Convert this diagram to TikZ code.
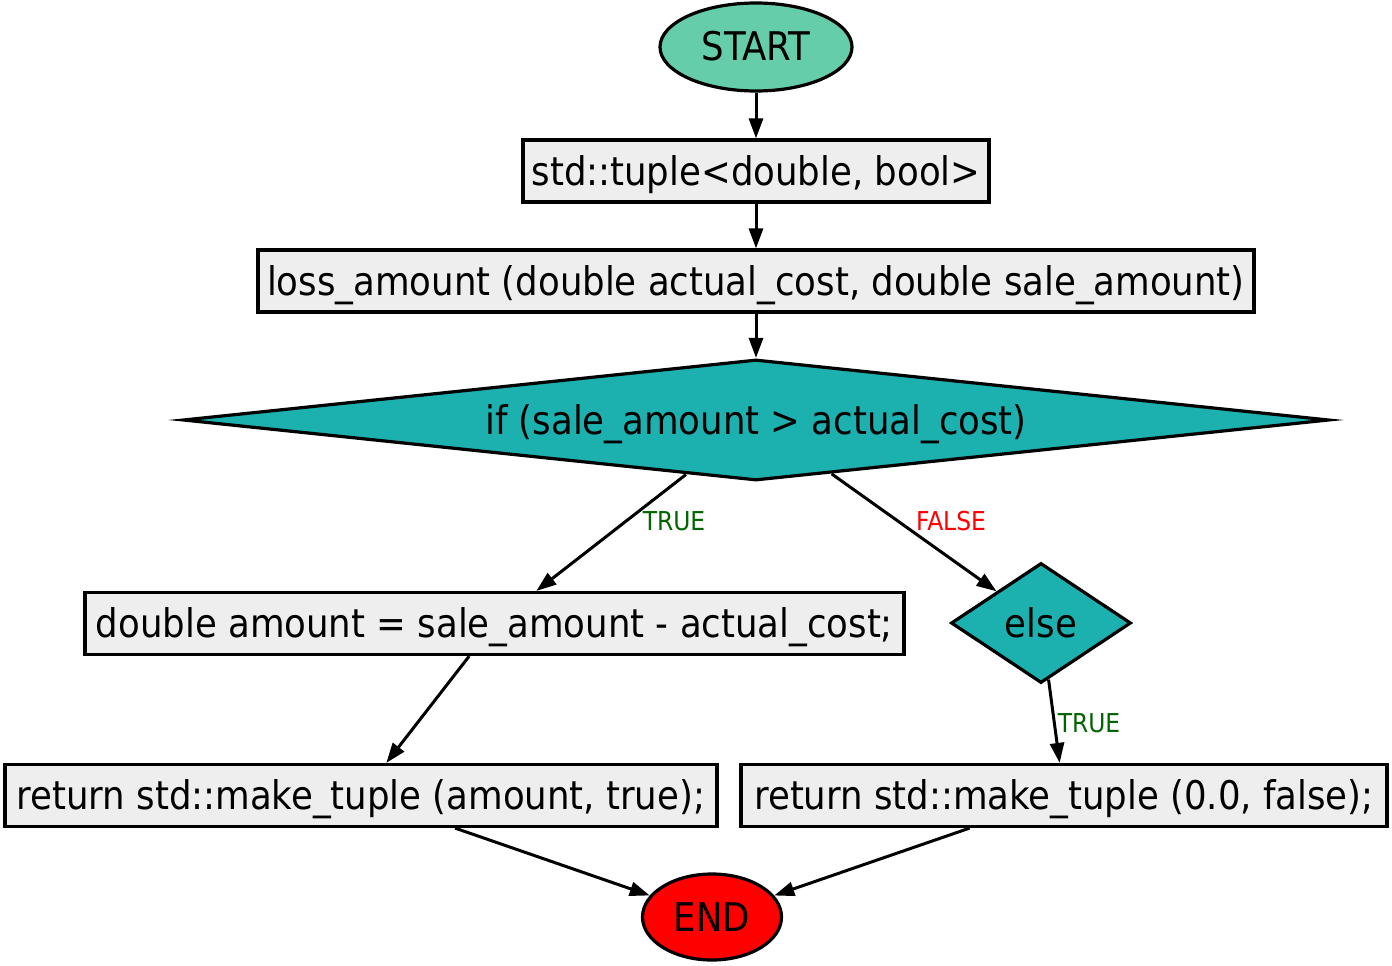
\documentclass[tikz,border=0pt]{standalone}
\usepackage{fontspec}
\setmainfont{DejaVu Sans Condensed}
\usetikzlibrary{shapes.geometric,arrows.meta}
\definecolor{startfill}{HTML}{66CDAA}
\definecolor{decfill}{HTML}{1CB0AF}
\definecolor{boxfill}{HTML}{EEEEEE}
\definecolor{endfill}{HTML}{FF0000}
\definecolor{truegreen}{HTML}{006400}
\definecolor{falsered}{HTML}{FF0000}
\tikzset{
  base/.style={draw=black, line width=3.2pt, inner sep=0pt, text height=34pt, text depth=6pt, font=\fontsize{39.5}{41}\selectfont},
  stepbox/.style={base, rectangle, fill=boxfill, minimum height=62pt},
  decision/.style={base, diamond, fill=decfill},
  conn/.style={line width=3pt, -{Triangle[length=20pt,width=14pt]}},
  elabel/.style={font=\fontsize{26}{28}\selectfont, inner sep=0pt}
}
\begin{document}
\begin{tikzpicture}[x=1pt,y=-1pt]
\useasboundingbox (0,0) rectangle (1392,966);
\node[base, ellipse, fill=startfill, minimum width=192pt, minimum height=88pt] (start) at (756,47) {START};
\node[stepbox, minimum width=466pt] (tup) at (756,171) {std::tuple<double, bool>};
\node[stepbox, minimum width=996pt] (loss) at (756,281) {loss\_amount (double actual\_cost, double sale\_amount)};
\node[decision, shape aspect=9.6, minimum width=1146pt, minimum height=121pt] (cond) at (756,420) {if (sale\_amount > actual\_cost)};
\node[stepbox, minimum width=819pt] (amt) at (494.5,623.5) {double amount = sale\_amount - actual\_cost;};
\node[decision, shape aspect=1.5, minimum width=180pt, minimum height=120pt] (els) at (1041,623) {else};
\node[stepbox, minimum width=712pt] (rtrue) at (361,795.5) {return std::make\_tuple (amount, true);};
\node[stepbox, minimum width=646pt] (rfalse) at (1064,795.5) {return std::make\_tuple (0.0, false);};
\node[base, ellipse, fill=endfill, minimum width=139pt, minimum height=86pt] (end) at (712,917) {END};

\draw[conn] (start) -- (tup);
\draw[conn] (tup) -- (loss);
\draw[conn] (loss) -- (cond);
\draw[conn] (cond) -- (amt);
\draw[conn] (cond) -- (els);
\draw[conn] (els) -- (rfalse);
\draw[conn] (amt) -- (rtrue);
\draw[conn] (rtrue) -- (end);
\draw[conn] (rfalse) -- (end);

\node[elabel, text=truegreen] (l1) at (674,521) {TRUE};
\node[elabel, text=falsered] (l2) at (951,521) {FALSE};
\node[elabel, text=truegreen] (l3) at (1089,723) {TRUE};
\end{tikzpicture}
\end{document}
